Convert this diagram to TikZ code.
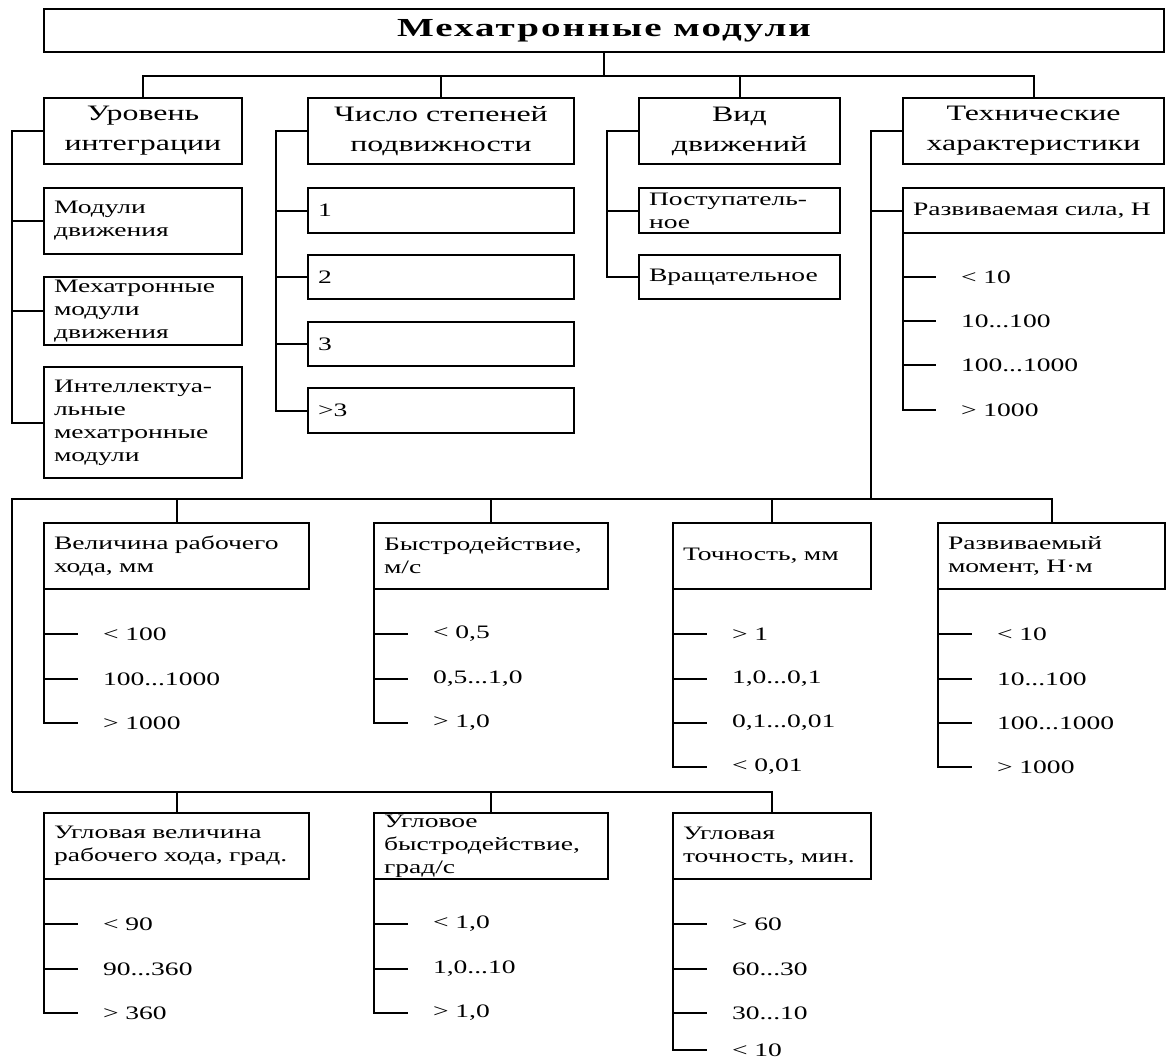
\documentclass[tikz,border=0pt]{standalone}
\usepackage{fontspec}
\setmainfont[FakeStretch=1.45]{Liberation Serif}
\newfontfamily\ttlfont[FakeStretch=1.5,LetterSpace=8]{Liberation Serif}
\usetikzlibrary{positioning}

\tikzset{
    link/.style={line width=2pt},
    hd/.style={draw, line width=2pt, outer sep=0pt, inner sep=0pt, anchor=north west,
        align=center, minimum height=66pt, font=\fontsize{22}{30}\selectfont},
    sub/.style 2 args={draw, line width=2pt, outer sep=0pt, inner xsep=10pt, inner ysep=0pt,
        anchor=north west, align=left, text width=#1, minimum height=#2},
    val/.style={anchor=west, inner xsep=25pt, inner ysep=0pt, outer sep=0pt}
}

\begin{document}
\begin{tikzpicture}[x=1pt, y=-1pt, font=\fontsize{19}{23}\selectfont]
            \useasboundingbox (0,0) rectangle (1166,1063);

            \node[draw, line width=2pt, outer sep=0pt, anchor=north west,
                minimum width=1120pt, minimum height=43pt,
                font=\ttlfont\fontsize{26}{30}\bfseries] (title) at (44,9) {Мехатронные модули};

            % first level
            \node[hd, minimum width=198pt] (lvlA) at (44,98)  {Уровень\\интеграции};
            \node[hd, minimum width=266pt] (lvlB) at (308,98) {Число степеней\\подвижности};
            \node[hd, minimum width=201pt] (lvlC) at (639,98) {Вид\\движений};
            \node[hd, minimum width=261pt] (lvlD) at (903,98) {Технические\\характеристики};

            \node[sub={178pt}{66pt}]  (mA1) at (44,188) {Модули\\движения};
            \node[sub={178pt}{68pt}]  (mA2) at (44,277) {Мехатронные\\модули\\движения};
            \node[sub={178pt}{111pt}] (mA3) at (44,367) {Интеллектуа-\\льные\\мехатронные\\модули};

            \node[sub={246pt}{45pt}] (mB1) at (308,188) {1};
            \node[sub={246pt}{44pt}] (mB2) at (308,255) {2};
            \node[sub={246pt}{44pt}] (mB3) at (308,322) {3};
            \node[sub={246pt}{45pt}] (mB4) at (308,388) {>3};

            \node[sub={181pt}{45pt}] (mC1) at (639,188) {Поступатель-\\ное};
            \node[sub={181pt}{44pt}] (mC2) at (639,255) {Вращательное};

            \node[sub={241pt}{45pt}] (force) at (903,188) {Развиваемая сила, Н};
            \node[val] (force-1) at (936,277) {< 10};
            \node[val] (force-2) at (936,321) {10...100};
            \node[val] (force-3) at (936,365) {100...1000};
            \node[val] (force-4) at (936,410) {> 1000};

            % second level
            \node[sub={245pt}{66pt}] (stroke) at (44,523)  {Величина рабочего\\хода, мм};
            \node[sub={214pt}{66pt}] (speed)  at (374,523) {Быстродействие,\\м/с};
            \node[sub={178pt}{66pt}] (prec)   at (673,523) {Точность, мм};
            \node[sub={207pt}{66pt}] (torque) at (938,523) {Развиваемый\\момент, Н·м};

            \node[val] (stroke-1) at (78,634) {< 100};
            \node[val] (stroke-2) at (78,679) {100...1000};
            \node[val] (stroke-3) at (78,723) {> 1000};
            \node[val] (speed-1) at (408,634) {< 0,5};
            \node[val] (speed-2) at (408,679) {0,5...1,0};
            \node[val] (speed-3) at (408,723) {> 1,0};
            \node[val] (prec-1) at (707,634) {> 1};
            \node[val] (prec-2) at (707,679) {1,0...0,1};
            \node[val] (prec-3) at (707,723) {0,1...0,01};
            \node[val] (prec-4) at (707,767) {< 0,01};
            \node[val] (torque-1) at (972,634) {< 10};
            \node[val] (torque-2) at (972,679) {10...100};
            \node[val] (torque-3) at (972,723) {100...1000};
            \node[val] (torque-4) at (972,767) {> 1000};

            % third level
            \node[sub={245pt}{66pt}] (astroke) at (44,813)  {Угловая величина\\рабочего хода, град.};
            \node[sub={214pt}{66pt}] (aspeed)  at (374,813) {Угловое\\быстродействие,\\град/с};
            \node[sub={178pt}{66pt}] (aprec)   at (673,813) {Угловая\\точность, мин.};

            \node[val] (astroke-1) at (78,924)  {< 90};
            \node[val] (astroke-2) at (78,969)  {90...360};
            \node[val] (astroke-3) at (78,1013) {> 360};
            \node[val] (aspeed-1) at (408,924)  {< 1,0};
            \node[val] (aspeed-2) at (408,969)  {1,0...10};
            \node[val] (aspeed-3) at (408,1013) {> 1,0};
            \node[val] (aprec-1) at (707,924)  {> 60};
            \node[val] (aprec-2) at (707,969)  {60...30};
            \node[val] (aprec-3) at (707,1013) {30...10};
            \node[val] (aprec-4) at (707,1050) {< 10};

            \coordinate (busB) at (871,499);
            \coordinate (busC) at (12,792);

            % connectors
            \foreach \h in {lvlA,lvlB,lvlC,lvlD}
                {\draw[link] (title.south) -- ++(0,24) -| (\h.north);}
            \foreach \c in {mA1,mA2,mA3}
                {\draw[link] (lvlA.west) -- ++(-32,0) |- (\c.west);}
            \foreach \c in {mB1,mB2,mB3,mB4}
                {\draw[link] (lvlB.west) -- ++(-32,0) |- (\c.west);}
            \foreach \c in {mC1,mC2}
                {\draw[link] (lvlC.west) -- ++(-32,0) |- (\c.west);}
            \draw[link] (lvlD.west) -- ++(-32,0) |- (force.west);
            \draw[link] (lvlD.west) -| (busB);
            \draw[link] (busB) -| (busC);
            \foreach \b in {stroke,speed,prec,torque}
                {\draw[link] (busB) -| (\b.north);}
            \foreach \b in {astroke,aspeed,aprec}
                {\draw[link] (busC) -| (\b.north);}

            \foreach \i in {1,...,4}
                {\draw[link] (force.south west) |- (force-\i.west);
                 \draw[link] (prec.south west) |- (prec-\i.west);
                 \draw[link] (torque.south west) |- (torque-\i.west);
                 \draw[link] (aprec.south west) |- (aprec-\i.west);}
            \foreach \i in {1,2,3}
                {\draw[link] (stroke.south west) |- (stroke-\i.west);
                 \draw[link] (speed.south west) |- (speed-\i.west);
                 \draw[link] (astroke.south west) |- (astroke-\i.west);
                 \draw[link] (aspeed.south west) |- (aspeed-\i.west);}
        \end{tikzpicture}
\end{document}
